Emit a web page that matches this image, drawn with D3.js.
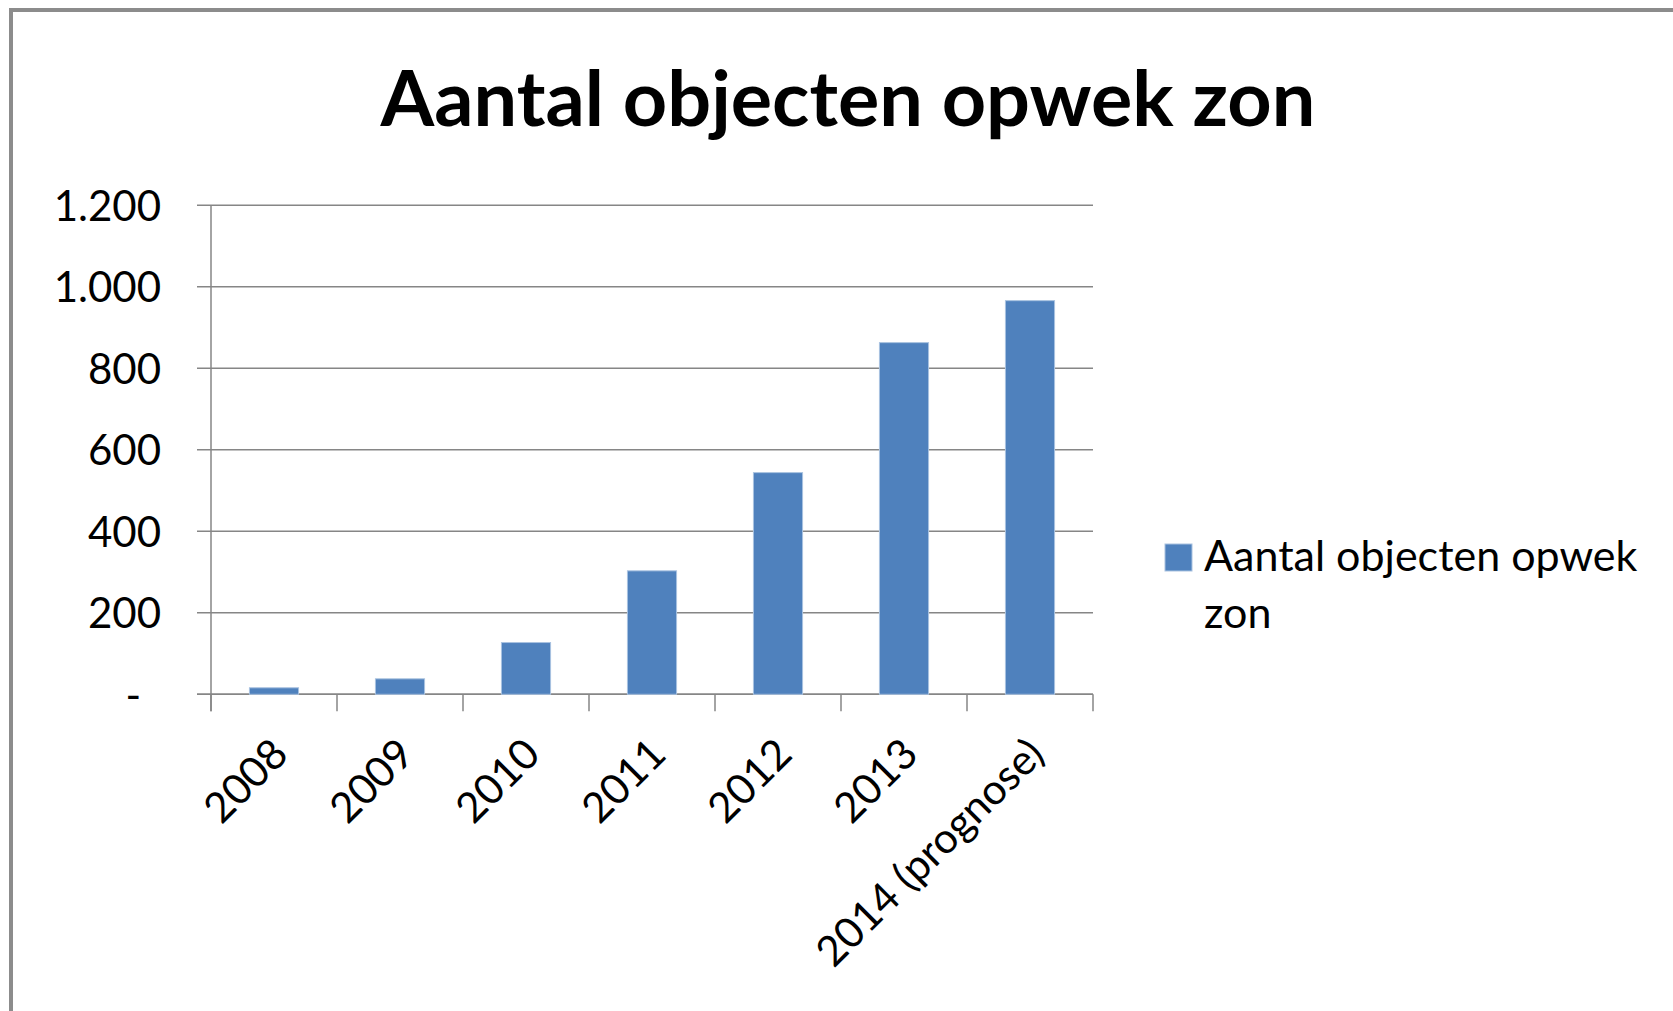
<!DOCTYPE html>
<html>
<head>
    <meta charset="utf-8">
    <style>
        body {
            margin: 0;
            background: #fff;
        }

        svg text {
            font-family: Lato, "Open Sans", sans-serif;
            fill: #000;
        }

        line.grid {
            stroke: #868686;
            stroke-width: 1.5px;
        }

        rect.bar {
            fill: #4f81bd;
            stroke: #a9c2e0;
            stroke-width: 1px;
        }
    </style>
</head>
<body>
<div id="chart"></div>
<script src="https://cdn.jsdelivr.net/npm/d3@7"></script>
<script>

    var title = "Aantal objecten opwek zon";
    var seriesName = "Aantal objecten opwek zon";
    var categories = ["2008", "2009", "2010", "2011", "2012", "2013", "2014 (prognose)"];
    var values = [16, 38, 127, 303, 544, 863, 966];
    var yTicks = [0, 200, 400, 600, 800, 1000, 1200];

    var width = 1673;
    var height = 1011;
    var labelSize = 42;

    // dutch number format, zero shown as a dash
    var nl = d3.formatLocale({decimal: ",", thousands: ".", grouping: [3], currency: ["€ ", ""]});
    var fmt = nl.format(",d");

    var svg = d3.select("#chart").append("svg")
        .attr("width", width)
        .attr("height", height);

    // frame (only left and top edges are inside the picture)
    svg.append("path")
        .attr("d", "M11," + (height + 5) + "V10H" + (width + 5))
        .attr("fill", "none")
        .attr("stroke", "#8c8c8c")
        .attr("stroke-width", 4);

    var x = d3.scaleBand()
        .domain(categories)
        .range([211, 1093])
        .paddingInner(0.61)
        .paddingOuter(0.305);

    var y = d3.scaleLinear()
        .domain([0, 1200])
        .range([694.3, 205.3]);

    // gridlines
    svg.append("g").selectAll("line.grid")
        .data(yTicks)
        .enter()
        .append("line")
        .attr("class", "grid")
        .attr("x1", 197)
        .attr("x2", x.range()[1])
        .attr("y1", function (d) {
            return y(d);
        })
        .attr("y2", function (d) {
            return y(d);
        });

    // y axis
    var yAxis = svg.append("g")
        .attr("transform", "translate(211,0)")
        .call(d3.axisLeft(y).tickValues(yTicks).tickSize(0).tickPadding(50)
            .tickFormat(function (d) {
                return d === 0 ? "-" : fmt(d);
            }));
    yAxis.select(".domain")
        .attr("stroke", "#868686")
        .attr("stroke-width", 1.5)
        .attr("d", "M0," + y(1200) + "V" + (y(0) + 17));
    yAxis.selectAll("text")
        .attr("font-size", labelSize)
        .attr("fill", "#000")
        .attr("font-family", "Lato")
        .attr("dy", "0.35em")
        .attr("dx", function (d) {
            return d === 0 ? -20 : 0;
        });

    // x axis
    var xAxis = svg.append("g")
        .attr("transform", "translate(0," + y(0) + ")");
    xAxis.append("line")
        .attr("x1", 197)
        .attr("x2", x.range()[1])
        .attr("stroke", "#868686")
        .attr("stroke-width", 1.5);
    var bounds = categories.map(function (c) {
        return x(c) - x.step() * x.paddingInner() / 2;
    });
    bounds.push(x.range()[1]);
    xAxis.selectAll("line.tick")
        .data(bounds)
        .enter()
        .append("line")
        .attr("class", "tick")
        .attr("x1", function (d) {
            return d;
        })
        .attr("x2", function (d) {
            return d;
        })
        .attr("y1", 0)
        .attr("y2", 17)
        .attr("stroke", "#868686")
        .attr("stroke-width", 1.5);
    xAxis.selectAll("text.cat")
        .data(categories)
        .enter()
        .append("text")
        .attr("class", "cat")
        .attr("font-size", labelSize)
        .attr("text-anchor", "end")
        .attr("dominant-baseline", "central")
        .attr("transform", function (d) {
            return "translate(" + (x(d) + x.bandwidth() / 2 + 5) + ",51) rotate(-45)";
        })
        .text(function (d) {
            return d;
        });

    // bars
    svg.append("g").selectAll("rect.bar")
        .data(values)
        .enter()
        .append("rect")
        .attr("class", "bar")
        .attr("x", function (d, i) {
            return x(categories[i]);
        })
        .attr("width", x.bandwidth())
        .attr("y", function (d) {
            return y(d);
        })
        .attr("height", function (d) {
            return y(0) - y(d);
        });

    // title, stretched to the width it has in the picture
    var titleText = svg.append("text")
        .attr("x", 848)
        .attr("y", 126)
        .attr("text-anchor", "middle")
        .attr("font-weight", "bold")
        .attr("font-size", 100)
        .text(title);
    var tw = titleText.node().getComputedTextLength();
    titleText.attr("font-size", 100 * 935 / tw);

    // legend
    var legend = svg.append("g");
    legend.append("rect")
        .attr("x", 1165)
        .attr("y", 544)
        .attr("width", 27)
        .attr("height", 27)
        .attr("fill", "#4f81bd")
        .attr("stroke", "#a9c2e0");
    var words = seriesName.split(" ");
    var legendText = legend.append("text")
        .attr("x", 1204)
        .attr("y", 571)
        .attr("font-size", 43);
    legendText.append("tspan")
        .attr("x", 1204)
        .text(words.slice(0, 3).join(" "));
    legendText.append("tspan")
        .attr("x", 1204)
        .attr("dy", 57)
        .text(words.slice(3).join(" "));

</script>
</body>
</html>
